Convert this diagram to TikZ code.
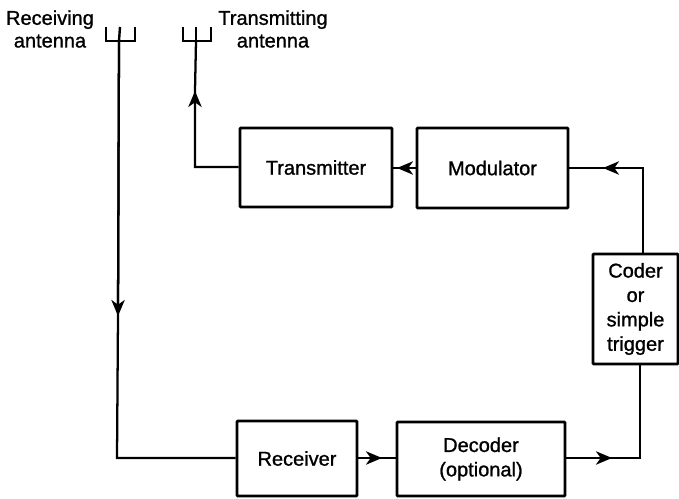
\documentclass[tikz,border=0pt]{standalone}
\usepackage{fontspec}
\setmainfont{Liberation Sans}[RawFeature={embolden=1.1}]
\usetikzlibrary{arrows.meta}
\tikzset{
  x=0.75pt,y=-0.75pt,
  blockbox/.style={draw=black,line width=2.1pt,minimum width=#1,inner sep=0pt,align=center,rounded corners=0.6pt,
    font=\fontsize{15}{18.3}\selectfont},
  label/.style={inner sep=0pt,align=center,font=\fontsize{15}{17}\selectfont},
  wire/.style={line width=1.7pt,line join=miter},
  tip/.style={line width=1.7pt,-{Stealth[length=12pt,width=10pt,inset=3.5pt]}},
  aerial/.style={line width=1.8pt,line join=miter},
}
\newcommand{\blk}[6]{\node[blockbox=#4*0.75pt-#2*0.75pt,minimum height=#5*0.75pt-#3*0.75pt] (#1) at ({(#2+#4)/2},{(#3+#5)/2}) {#6};}
\begin{document}
\begin{tikzpicture}
\useasboundingbox (0,0) rectangle (679,499);
\blk{tx}{240}{128}{392}{207}{Transmitter}
\blk{mod}{417}{128}{568}{208}{Modulator}
\blk{cod}{593}{254}{678}{364}{Coder\\or\\simple\\trigger}
\blk{rx}{237}{421}{357}{496}{Receiver}
\blk{dec}{397}{422}{565}{496}{Decoder\\(optional)}
\node[label] (rl) at (50,29) {Receiving\\antenna};
\node[label] (tl) at (273,29) {Transmitting\\antenna};
% antennas
\coordinate (ra) at (119,41);
\coordinate (ta) at (196,41);
\draw[aerial] (106,27) -- (106,41) -- (135,41) -- (135,27);
\draw[aerial] (ra) -- (120,27);
\draw[aerial] (183,27) -- (183,41) -- (211,41) -- (211,27);
\draw[aerial] (ta) -- (196,27);
% junctions and arrow tips
\coordinate (c1) at (117,458);
\coordinate (a1) at (118,316);
\coordinate (c2) at (195,167);
\coordinate (a2) at (195,91);
\coordinate (a3) at (397,168);
\coordinate (c3) at (643,168);
\coordinate (a4) at (603,168);
\coordinate (c4) at (640,458);
\coordinate (a5) at (382,458);
\coordinate (a6) at (612,458);
% connectors
\draw[wire] (ra) -- (a1) -- (c1) -- (rx.west |- c1);
\draw[tip] (ra) -- (a1);
\draw[wire] (tx.west |- c2) -- (c2) -- (a2) -- (ta);
\draw[tip] (c2) -- (a2);
\draw[wire] (mod.west |- a3) -- (tx.east |- a3);
\draw[tip] (mod.west |- a3) -- (a3);
\draw[wire] (cod.north -| c3) -- (c3) -- (mod.east |- a4);
\draw[tip] (c3) -- (a4);
\draw[wire] (rx.east |- a5) -- (dec.west |- a5);
\draw[tip] (rx.east |- a5) -- (a5);
\draw[wire] (dec.east |- a6) -- (c4) -- (cod.south -| c4);
\draw[tip] (dec.east |- a6) -- (a6);
\end{tikzpicture}
\end{document}
